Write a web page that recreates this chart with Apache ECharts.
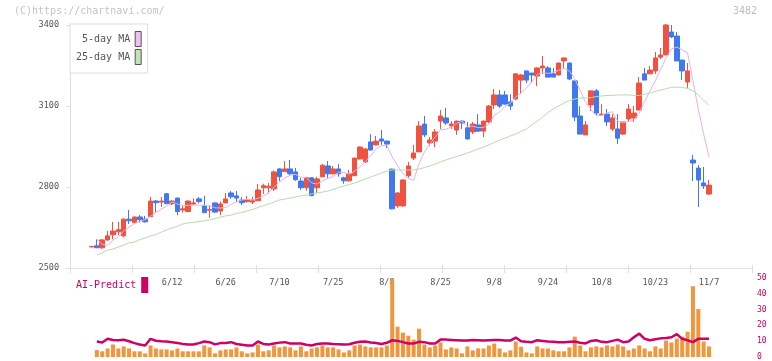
<!DOCTYPE html>
<html>
<head>
<meta charset="utf-8">
<script src="https://cdn.jsdelivr.net/npm/echarts@6/dist/echarts.min.js"></script>
<style>
html,body{margin:0;padding:0;background:#fff;}
#chart{width:772px;height:361px;}
</style>
</head>
<body>
<div id="chart"></div>
<script>
const dates = ['5/22','5/23','5/26','5/27','5/28','5/29','5/30',
'6/2','6/3','6/4','6/5','6/6','6/9','6/10','6/11','6/12','6/13','6/16','6/17','6/18','6/19','6/20','6/23','6/24','6/25','6/26','6/27','6/30',
'7/1','7/2','7/3','7/4','7/7','7/8','7/9','7/10','7/11','7/14','7/15','7/16','7/17','7/18','7/22','7/23','7/24','7/25','7/28','7/29','7/30','7/31',
'8/1','8/4','8/5','8/6','8/7','8/8','8/12','8/13','8/14','8/15','8/18','8/19','8/20','8/21','8/22','8/25','8/26','8/27','8/28','8/29',
'9/1','9/2','9/3','9/4','9/5','9/8','9/9','9/10','9/11','9/12','9/16','9/17','9/18','9/19','9/22','9/24','9/25','9/26','9/29','9/30',
'10/1','10/2','10/3','10/6','10/7','10/8','10/9','10/10','10/14','10/15','10/16','10/17','10/20','10/21','10/22','10/23','10/24','10/27','10/28','10/29','10/30','10/31',
'11/4','11/5','11/6','11/7'];

const tickLabels = ['6/12','6/26','7/10','7/25','8/8','8/25','9/8','9/24','10/8','10/23','11/7'];
const priceTicks = [2500, 2800, 3100, 3400];
const aiTicks = [0, 10, 20, 30, 40, 50];

const opens = [2578,2582,2575,2604,2623,2634,2619,2681,2668,2689,
2681,2690,2748,2744,2775,2738,2759,2715,2709,2737,
2756,2730,2714,2741,2711,2741,2778,2767,2752,2746,
2744,2749,2797,2797,2793,2867,2857,2867,2856,2822,
2797,2834,2797,2838,2878,2849,2867,2834,2823,2842,
2904,2893,2967,2956,2978,2970,2866,2730,2730,2842,
2907,2930,3033,2963,2970,3044,3056,3026,3011,3044,
3019,3004,3030,3007,3041,3104,3141,3141,3115,3126,
3196,3230,3222,3211,3241,3241,3219,3215,3267,3259,
3193,3063,2993,3104,3156,3067,3070,3015,3015,2996,
3052,3056,3085,3219,3219,3230,3281,3289,3374,3359,
3270,3189,2900,2870,2815,2774];
const closes = [2580,2575,2604,2619,2637,2642,2681,2675,2689,2679,
2671,2748,2742,2748,2738,2748,2709,2719,2748,2741,
2746,2705,2717,2707,2737,2756,2764,2759,2742,2752,
2749,2789,2805,2803,2856,2838,2867,2849,2827,2797,
2834,2768,2830,2881,2849,2867,2849,2823,2849,2907,
2948,2941,2937,2970,2970,2959,2719,2778,2826,2878,
2926,3026,2993,2974,3004,3063,3037,3033,3044,3037,
2978,3033,3007,3044,3100,3141,3100,3107,3100,3219,
3215,3196,3215,3241,3248,3207,3207,3259,3278,3200,
3059,2996,3030,3156,3074,3070,3041,3056,2981,3041,
3089,3074,3185,3196,3233,3278,3289,3400,3356,3267,
3230,3230,2889,2826,2804,2807];
const lows = [2578,2574,2571,2601,2606,2622,2614,2663,2666,2668,
2668,2689,2706,2726,2737,2733,2695,2705,2707,2733,
2740,2705,2686,2705,2696,2741,2756,2744,2733,2742,
2737,2749,2774,2776,2785,2822,2857,2844,2823,2790,
2786,2766,2778,2836,2834,2846,2838,2812,2820,2840,
2902,2889,2935,2954,2956,2944,2717,2723,2727,2835,
2900,2930,2985,2952,2948,3015,3030,3015,2993,3015,
2976,2996,3004,2985,3037,3089,3093,3105,3085,3122,
3144,3185,3185,3174,3219,3207,3207,3213,3241,3196,
3044,2996,2993,3081,3067,3067,3026,3007,2959,2993,
3044,3041,3085,3196,3219,3219,3274,3289,3352,3267,
3196,3167,2822,2726,2793,2770];
const highs = [2582,2606,2607,2637,2671,2671,2684,2715,2690,2696,
2693,2763,2752,2763,2778,2752,2761,2730,2750,2758,
2763,2767,2731,2743,2746,2778,2785,2785,2763,2767,
2763,2811,2812,2815,2861,2870,2896,2900,2871,2833,
2838,2836,2838,2885,2896,2878,2885,2838,2863,2909,
2950,2944,2996,2989,3011,2972,2868,2780,2828,2893,
2956,3044,3063,2985,3015,3085,3093,3044,3046,3046,
3041,3041,3070,3046,3104,3163,3159,3156,3144,3222,
3219,3230,3222,3244,3285,3248,3241,3261,3280,3261,
3193,3100,3044,3159,3163,3107,3089,3070,3070,3041,
3107,3100,3207,3241,3248,3300,3315,3404,3400,3374,
3270,3259,2919,2881,2874,2826];

const ma5 = [null,2606,2588,2583,2603,2615,2637,2651,2665,2673,
2679,2692,2706,2718,2729,2745,2737,2732,2732,2733,
2733,2732,2731,2723,2722,2724,2736,2745,2752,2755,
2753,2758,2767,2780,2800,2818,2834,2843,2847,2836,
2835,2815,2811,2822,2832,2839,2855,2854,2847,2859,
2875,2894,2916,2941,2953,2955,2911,2879,2850,2832,
2825,2887,2930,2959,2985,3012,3014,3022,3036,3043,
3026,3025,3020,3020,3032,3065,3078,3098,3110,3133,
3148,3167,3189,3217,3223,3221,3224,3232,3240,3230,
3201,3158,3113,3088,3063,3065,3074,3079,3044,3038,
3042,3048,3074,3117,3155,3193,3236,3279,3311,3318,
3308,3297,3194,3088,2996,2911];
const ma25 = [null,2548,2556,2567,2570,2578,2585,2593,2596,2605,
2611,2619,2624,2633,2641,2648,2654,2663,2667,2669,
2672,2675,2678,2683,2689,2693,2696,2702,2706,2711,
2717,2724,2731,2737,2744,2752,2755,2759,2763,2767,
2770,2774,2778,2781,2785,2791,2798,2804,2809,2815,
2822,2830,2837,2844,2852,2859,2863,2863,2863,2863,
2863,2867,2872,2878,2885,2893,2900,2907,2913,2919,
2926,2933,2941,2948,2956,2965,2974,2981,2989,2996,
3006,3015,3030,3044,3059,3076,3089,3100,3111,3120,
3126,3129,3130,3131,3135,3137,3139,3139,3141,3141,
3141,3139,3139,3144,3148,3154,3159,3164,3169,3170,
3169,3165,3156,3141,3122,3102];

const volume = [null,4.4,3.6,5.4,7.9,5.4,6.7,5.4,3.6,3.6,
2.3,7.3,5.4,4.8,4.8,4.2,5.4,3.6,3.6,3.6,
3.6,7.3,6.1,2.3,4.2,4.8,4.8,6.1,3.6,2.3,
2.9,7.9,3.6,4.2,7.3,6.1,6.7,6.1,4.2,6.7,
3.6,5.4,6.1,7.3,6.1,6.1,4.8,2.9,4.2,7.3,
7.9,6.7,6.1,6.1,6.1,7.3,49.2,19.2,15.4,13.5,
11,17.9,7.9,6.1,7.3,9.2,4.8,6.1,5.4,2.3,
6.7,4.2,5.4,5.4,7.3,8.5,5.4,2.9,4.2,9.8,
6.5,2.9,2.3,6.7,5.4,5.4,4.2,3.6,3.6,6.1,
12.9,7.3,3.6,6.1,6.7,6.1,7.3,6.7,7.9,6.7,
4.2,5.4,7.3,5.4,3.6,6.7,5.4,10.4,9.2,11.7,
12.9,16,44.8,30.4,9.8,6.7];
const aiPredict = [null,9.8,9.2,11.5,10.8,10.6,10.9,10,8.8,7.9,
7.3,11.5,10.3,10,9.8,9.3,8.8,8.3,7.9,7.9,
8.8,9.8,9.4,8,8.8,8.8,9.4,8.2,7.8,7.3,
7.3,9.8,8.3,7.9,8.6,9.1,9.4,8.6,8.6,8.6,
7.8,7.3,8.2,8.6,8.6,8.3,8.1,7.9,8.1,9,
9.6,9.8,9.2,8.8,8.2,9,10.6,10.2,9.4,8.6,
8.6,9.6,9.4,8.6,8.6,11,11,10.8,10.6,10.4,
10.4,10.8,10.6,10.4,10.6,10.8,10.8,10.4,10.4,12.3,
10,9.6,9.4,10.6,10.2,9.8,9.6,9.4,9.4,9.6,
9.8,9,8.6,10.2,10.6,9.6,9.4,10.2,11,9.4,
9.8,12.5,14.8,11.5,10.6,11.2,11.8,12,12.5,14.5,
11.5,10.6,9.4,11.5,11.5,11.5];

const MONO = '"DejaVu Sans Mono", "Liberation Mono", monospace';
const UP = '#f0523f', DOWN = '#3f78ef';

const padStart = ['_s0','_s1','_s2','_s3'];
const padEnd = ['_e0','_e1','_e2','_e3','_e4','_e5','_e6','_e7'];
const categories = padStart.concat(dates, padEnd);

function pairs(arr) {
  const out = [];
  arr.forEach((v, i) => { if (v !== null) out.push([dates[i], v]); });
  return out;
}
const candleData = dates.map((d, i) => [d, opens[i], closes[i], lows[i], highs[i]]);

const chart = echarts.init(document.getElementById('chart'), null, {renderer: 'canvas'});
const option = {
  animation: false,
  backgroundColor: '#fff',
  title: [
    {text: '(C)https://chartnavi.com/', left: 14, top: 6, padding: 0,
     textStyle: {fontFamily: MONO, fontSize: 10, fontWeight: 'normal', color: '#c4c4c4'}},
    {text: '3482', right: 15, top: 6, padding: 0,
     textStyle: {fontFamily: MONO, fontSize: 10, fontWeight: 'normal', color: '#bdbdbd'}}
  ],
  legend: [
    {
      orient: 'vertical', left: 70, top: 24, align: 'right', icon: 'rect',
      itemWidth: 6, itemHeight: 15, itemGap: 2, padding: [7, 6, 8, 6],
      backgroundColor: '#fff', borderColor: '#dddddd', borderWidth: 1,
      selectedMode: false,
      textStyle: {fontFamily: MONO, fontSize: 10, color: '#555'},
      data: [
        {name: '5-day MA', itemStyle: {color: '#f0c0ee', borderColor: '#555', borderWidth: 1}},
        {name: '25-day MA', itemStyle: {color: '#c2e2b8', borderColor: '#555', borderWidth: 1}}
      ]
    },
    {
      orient: 'horizontal', left: 76, top: 277, align: 'right', icon: 'rect',
      itemWidth: 7, itemHeight: 16, padding: 0, selectedMode: false,
      textStyle: {fontFamily: MONO, fontSize: 10, color: '#cc0066'},
      data: [{name: 'AI-Predict', itemStyle: {color: '#cc0066'}}]
    }
  ],
  grid: [
    {left: 70, right: 20, top: 25, height: 243},
    {left: 70, right: 20, top: 278, height: 80}
  ],
  xAxis: [
    {type: 'category', gridIndex: 0, data: categories, boundaryGap: false,
     axisLine: {show: true, lineStyle: {color: '#dedede', width: 1}},
     axisTick: {show: false},
     axisLabel: {show: true, margin: 10, fontFamily: MONO, fontSize: 8.5, color: '#555',
       interval: (idx, val) => tickLabels.indexOf(val) >= 0},
     splitLine: {show: false}},
    {type: 'value', gridIndex: 0, min: 0, max: 11, interval: 1, position: 'bottom',
     axisLine: {show: false}, axisTick: {show: true, length: 5, lineStyle: {color: '#dedede'}},
     axisLabel: {show: false}, splitLine: {show: false}},
    {type: 'value', gridIndex: 0, min: 0, max: 11, interval: 1, position: 'bottom',
     axisLine: {show: false}, axisTick: {show: true, inside: true, length: 3, lineStyle: {color: '#dedede'}},
     axisLabel: {show: false}, splitLine: {show: false}},
    {type: 'category', gridIndex: 1, data: categories, boundaryGap: false, show: false}
  ],
  yAxis: [
    {type: 'value', gridIndex: 0, min: priceTicks[0], max: priceTicks[priceTicks.length - 1],
     interval: priceTicks[1] - priceTicks[0],
     axisLine: {show: true, lineStyle: {color: '#dedede', width: 1}},
     axisTick: {show: true, length: 4, lineStyle: {color: '#dedede'}},
     axisLabel: {margin: 11, fontFamily: MONO, fontSize: 8.5, color: '#555',
       formatter: v => String(v)},
     splitLine: {show: false}},
    {type: 'value', gridIndex: 0, min: priceTicks[0], max: priceTicks[priceTicks.length - 1],
     interval: priceTicks[1] - priceTicks[0],
     axisLine: {show: false}, axisTick: {show: true, inside: true, length: 3, lineStyle: {color: '#dedede'}},
     axisLabel: {show: false}, splitLine: {show: false}},
    {type: 'value', gridIndex: 1, position: 'right', min: aiTicks[0], max: aiTicks[aiTicks.length - 1],
     interval: aiTicks[1] - aiTicks[0],
     axisLine: {show: false}, axisTick: {show: false},
     axisLabel: {margin: 5, fontFamily: MONO, fontSize: 8, color: '#cc0066',
       formatter: v => String(v)},
     splitLine: {show: false}}
  ],
  series: [
    {name: 'price', type: 'candlestick', xAxisIndex: 0, yAxisIndex: 0,
     dimensions: ['date', 'open', 'close', 'lowest', 'highest'],
     encode: {x: 'date', y: ['open', 'close', 'lowest', 'highest']},
     data: candleData, barWidth: 5,
     itemStyle: {color: UP, color0: DOWN, borderColor: UP, borderColor0: DOWN, borderWidth: 1}},
    {name: '5-day MA', type: 'line', xAxisIndex: 0, yAxisIndex: 0, data: pairs(ma5),
     symbol: 'none', lineStyle: {color: '#e6b2e6', width: 1}, itemStyle: {color: '#f0c0ee'}, z: 3},
    {name: '25-day MA', type: 'line', xAxisIndex: 0, yAxisIndex: 0, data: pairs(ma25),
     symbol: 'none', lineStyle: {color: '#b6dcae', width: 1}, itemStyle: {color: '#c2e2b8'}, z: 3},
    {name: 'volume', type: 'bar', xAxisIndex: 3, yAxisIndex: 2, data: pairs(volume),
     barWidth: 4, itemStyle: {color: '#f0963c'}},
    {name: 'AI-Predict', type: 'line', xAxisIndex: 3, yAxisIndex: 2, data: pairs(aiPredict),
     symbol: 'none', lineStyle: {color: '#cc0066', width: 2.5}, itemStyle: {color: '#cc0066'}, z: 4}
  ]
};
chart.setOption(option);
</script>
</body>
</html>
